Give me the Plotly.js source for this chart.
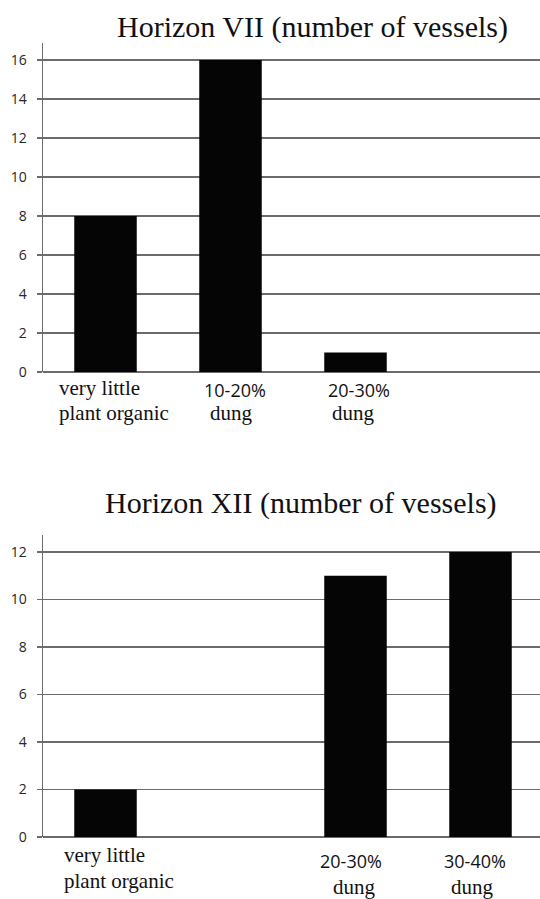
<!DOCTYPE html>
<html>
<head>
<meta charset="utf-8">
<script src="https://cdn.plot.ly/plotly-3.0.1.min.js"></script>
<style>html,body{margin:0;padding:0;background:#fff;}#chart{width:540px;height:899px;}</style>
</head>
<body>
<div id="chart"></div>
<script>
// ---- data ----
const topTitle = "Horizon VII (number of vessels)";
const bottomTitle = "Horizon XII (number of vessels)";
const topCategories = ["very little plant organic", "10-20% dung", "20-30% dung", "(empty 4)"];
const topValues = [8, 16, 1, null];
const bottomCategories = ["very little plant organic", "(empty 2)", "20-30% dung", "30-40% dung"];
const bottomValues = [2, null, 11, 12];
// label lines per category
const topLabelLine1 = ["very little", "10-20%", "20-30%"];
const topLabelLine2 = ["plant organic", "dung", "dung"];
const bottomLabelCats = ["very little plant organic", "20-30% dung", "30-40% dung"];
const bottomLabelLine1 = ["very little", "20-30%", "30-40%"];
const bottomLabelLine2 = ["plant organic", "dung", "dung"];

const H = 899;
const serif = "Liberation Serif, Times New Roman, serif";
const sans = "Open Sans, Liberation Sans, sans-serif";
const isPct = s => /%/.test(s);
const py = px => 1 - px / H;

const traces = [
  {type: "bar", x: topCategories, y: topValues, xaxis: "x", yaxis: "y",
   width: 0.5, marker: {color: "#050505"}, hoverinfo: "skip"},
  {type: "bar", x: bottomCategories, y: bottomValues, xaxis: "x2", yaxis: "y2",
   width: 0.5, marker: {color: "#050505"}, hoverinfo: "skip"}
];

const gridCol = "#6b6b6b";
function yax(domain, range) {
  return {domain: domain, range: range, dtick: 2, tick0: 0, showgrid: true, gridcolor: gridCol, gridwidth: 1.3,
    showline: true, linecolor: gridCol, linewidth: 1.5, ticks: "outside", ticklen: 5, tickcolor: gridCol,
    tickwidth: 1.3, zeroline: true, zerolinecolor: gridCol, zerolinewidth: 1.5, ticklabelstandoff: 7,
    tickfont: {family: sans, size: 14, color: "#262626"}, fixedrange: true};
}
function xax(cats, anchor) {
  return {type: "category", categoryorder: "array", categoryarray: cats, range: [-0.5, 3.476],
    showticklabels: false, showgrid: false, showline: false, zeroline: false, ticks: "", anchor: anchor, fixedrange: true};
}

const ann = [];
ann.push({text: topTitle, xref: "paper", yref: "paper", x: (312.6 - 43) / 497, y: py(27),
  xanchor: "center", yanchor: "middle", showarrow: false, font: {family: serif, size: 30, color: "#111"}});
ann.push({text: bottomTitle, xref: "paper", yref: "paper", x: (301 - 43) / 497, y: py(503),
  xanchor: "center", yanchor: "middle", showarrow: false, font: {family: serif, size: 30, color: "#111"}});

function addLabel(xref, cat, text, midPx, xshift, anchor) {
  const pct = isPct(text);
  ann.push({text: text, xref: xref, yref: "paper", x: cat, y: py(midPx), xanchor: anchor, yanchor: "middle",
    xshift: xshift, showarrow: false,
    font: {family: pct ? sans : serif, size: pct ? 18 : 21, color: "#111"}});
}
// top chart labels
const topShift1 = [-48.5, 4.5, 3.5], topShift2 = [-48.5, 0.5, -2.5];
topLabelLine1.forEach((t, i) => addLabel("x", topCategories[i], t, isPct(t) ? 390 : 388, topShift1[i], i === 0 ? "left" : "center"));
topLabelLine2.forEach((t, i) => addLabel("x", topCategories[i], t, 413, topShift2[i], i === 0 ? "left" : "center"));
// bottom chart labels
const botShift1 = [-43.5, -4.5, -5.5], botShift2 = [-43.5, -1.5, -8.5];
bottomLabelLine1.forEach((t, i) => addLabel("x2", bottomLabelCats[i], t, isPct(t) ? 861 : 855, botShift1[i], i === 0 ? "left" : "center"));
bottomLabelLine2.forEach((t, i) => addLabel("x2", bottomLabelCats[i], t, i === 0 ? 881 : 887, botShift2[i], i === 0 ? "left" : "center"));

const layout = {
  width: 540, height: H, margin: {l: 43, r: 0, t: 0, b: 0}, showlegend: false,
  paper_bgcolor: "#fff", plot_bgcolor: "#fff", bargap: 0.5,
  xaxis: xax(topCategories, "y"),
  yaxis: yax([py(372), py(43)], [0, 16.87]),
  xaxis2: xax(bottomCategories, "y2"),
  yaxis2: yax([py(837), py(535)], [0, 12.72]),
  annotations: ann
};
Plotly.newPlot("chart", traces, layout, {displayModeBar: false, staticPlot: true});
</script>
</body>
</html>
